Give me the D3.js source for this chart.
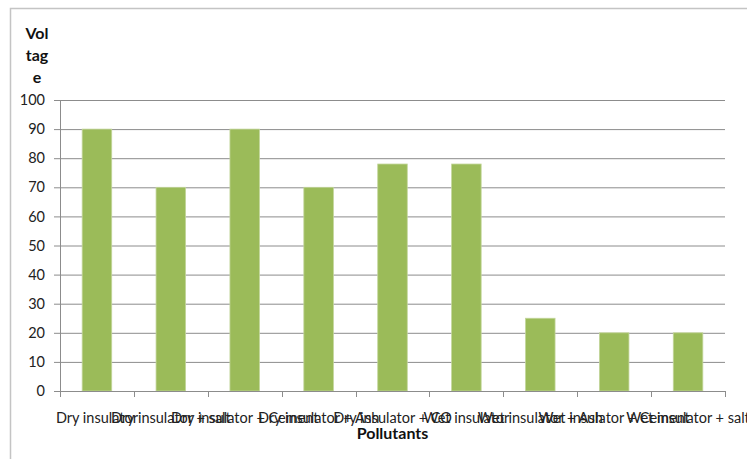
<!DOCTYPE html>
<html>
<head>
<meta charset="utf-8">
<script src="https://cdn.jsdelivr.net/npm/d3@7"></script>
<style>
  body { margin: 0; background: #fff; }
  svg { display: block; font-family: Lato, "Open Sans", sans-serif; }
</style>
</head>
<body>
<div id="main"></div>
<script>
// chart data
const categories = [
    'Dry insulator',
    'Dry insulator + salt',
    'Dry insulator + Cement',
    'Dry insulator + Ash',
    'Dry insulator + CO',
    'Wet insulator',
    'Wet insulator + Ash',
    'Wet insulator + Cement',
    'Wet insulator + salt'
];
const voltage = [90, 70, 90, 70, 78, 78, 25, 20, 20];
const yTicks = [0, 10, 20, 30, 40, 50, 60, 70, 80, 90, 100];
const yTitleLines = ['Vol', 'tag', 'e'];
const xTitle = 'Pollutants';

// size of the plot
const w = 747;
const h = 459;
const plotL = 60, plotR = 725, plotT = 100, plotB = 391;

const svg = d3.select('#main')
    .append('svg')
    .attr('width', w)
    .attr('height', h);

// outer chart border (only top and left are visible)
svg.append('path')
    .attr('d', `M10.5,${h} V8.5 H${w}`)
    .attr('fill', 'none')
    .attr('stroke', '#c4c4c4')
    .attr('stroke-width', 1.5);

const xScale = d3.scaleBand()
    .domain(categories)
    .range([plotL, plotR])
    .paddingInner(0.6)
    .paddingOuter(0.3);

const xBoundaries = d3.scaleLinear()
    .domain([0, categories.length])
    .range([plotL, plotR]);

const yScale = d3.scaleLinear()
    .domain([0, 100])
    .range([plotB, plotT]);

// gridlines + y ticks
const yAxis = d3.axisLeft(yScale)
    .tickValues(yTicks)
    .tickSize(6)
    .tickPadding(9)
    .tickFormat(d3.format('d'));

const gy = svg.append('g')
    .attr('transform', `translate(${plotL},0)`)
    .call(yAxis);
gy.select('.domain').remove();
gy.selectAll('.tick line')
    .attr('stroke', '#8c8c8c')
    .attr('x1', -6)
    .attr('x2', plotR - plotL);
gy.selectAll('.tick text')
    .attr('fill', '#222')
    .style('font-size', '14.5px')
    .style('font-family', 'Lato, sans-serif');

// bars
svg.selectAll('rect.bar')
    .data(voltage)
    .enter()
    .append('rect')
    .attr('class', 'bar')
    .attr('x', (d, i) => xScale(categories[i]))
    .attr('y', (d) => yScale(d))
    .attr('width', xScale.bandwidth())
    .attr('height', (d) => yScale(0) - yScale(d))
    .attr('fill', '#9bbb59')
    .attr('stroke', '#c3d69b')
    .attr('stroke-width', 0.8);

// y axis line
svg.append('line')
    .attr('x1', plotL + 0.5).attr('x2', plotL + 0.5)
    .attr('y1', plotT).attr('y2', plotB)
    .attr('stroke', '#8c8c8c');

// x axis line and ticks at category boundaries
svg.append('line')
    .attr('x1', plotL).attr('x2', plotR)
    .attr('y1', plotB + 0.5).attr('y2', plotB + 0.5)
    .attr('stroke', '#8c8c8c');

svg.selectAll('line.xtick')
    .data(d3.range(categories.length + 1))
    .enter()
    .append('line')
    .attr('class', 'xtick')
    .attr('x1', (d) => Math.round(xBoundaries(d)) + 0.5)
    .attr('x2', (d) => Math.round(xBoundaries(d)) + 0.5)
    .attr('y1', plotB)
    .attr('y2', plotB + 6)
    .attr('stroke', '#8c8c8c');

// category labels (they overlap, as in the original)
svg.selectAll('text.cat')
    .data(categories)
    .enter()
    .append('text')
    .attr('class', 'cat')
    .attr('x', (d) => xScale(d) + xScale.bandwidth() / 2)
    .attr('y', 423)
    .attr('text-anchor', 'middle')
    .attr('fill', '#222')
    .style('font-size', '14.5px')
    .text((d) => d);

// axis titles
svg.append('text')
    .attr('x', (plotL + plotR) / 2)
    .attr('y', 439)
    .attr('text-anchor', 'middle')
    .attr('fill', '#111')
    .style('font-size', '16px')
    .style('font-weight', 'bold')
    .text(xTitle);

svg.selectAll('text.ytitle')
    .data(yTitleLines)
    .enter()
    .append('text')
    .attr('class', 'ytitle')
    .attr('x', 37)
    .attr('y', (d, i) => 39 + i * 22)
    .attr('text-anchor', 'middle')
    .attr('fill', '#111')
    .style('font-size', '16px')
    .style('font-weight', 'bold')
    .text((d) => d);
</script>
</body>
</html>
